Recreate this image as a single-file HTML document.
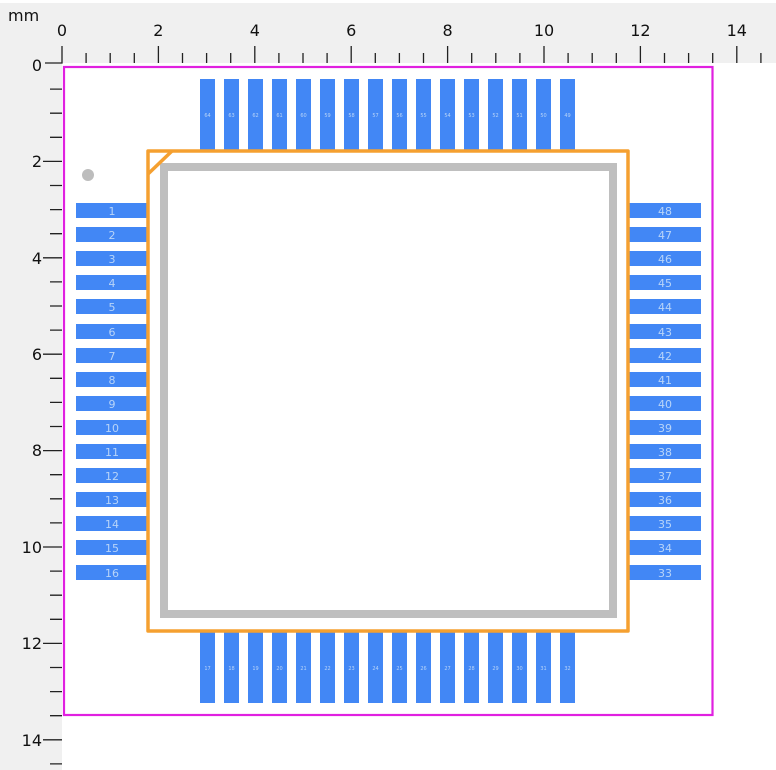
<!DOCTYPE html>
<html><head><meta charset="utf-8"><style>html,body{margin:0;padding:0;background:#fff}svg{display:block}text{font-family:"DejaVu Sans","Liberation Sans",sans-serif}</style></head><body>
<svg width="776" height="770" viewBox="0 0 776 770" xmlns="http://www.w3.org/2000/svg">
<rect x="0" y="0" width="776" height="770" fill="#fff"/>
<rect x="0" y="3" width="776" height="60" fill="#f0f0f0"/>
<rect x="0" y="3" width="62" height="767" fill="#f0f0f0"/>
<g stroke="#222" stroke-width="1.3" fill="none">
<path d="M62 46V63H45"/>
<path d="M86.1 53V63M110.2 53V63M134.3 53V63M182.5 53V63M206.6 53V63M230.7 53V63M278.9 53V63M303 53V63M327.1 53V63M375.3 53V63M399.4 53V63M423.5 53V63M471.7 53V63M495.8 53V63M519.9 53V63M568.1 53V63M592.2 53V63M616.3 53V63M664.5 53V63M688.6 53V63M712.7 53V63M760.9 53V63"/>
<path d="M158.4 46V63M254.8 46V63M351.2 46V63M447.6 46V63M544 46V63M640.4 46V63M736.8 46V63"/>
<path d="M50 89.1H62M50 113.2H62M50 137.3H62M50 185.5H62M50 209.6H62M50 233.7H62M50 281.9H62M50 306H62M50 330.1H62M50 378.3H62M50 402.4H62M50 426.5H62M50 474.7H62M50 498.8H62M50 522.9H62M50 571.1H62M50 595.2H62M50 619.3H62M50 667.5H62M50 691.6H62M50 715.7H62M50 763.9H62"/>
<path d="M43 161.4H62M43 257.8H62M43 354.2H62M43 450.6H62M43 547H62M43 643.4H62M43 739.8H62"/>
</g>
<g font-size="16" fill="#111" text-anchor="middle">
<text x="62" y="36">0</text><text x="158.4" y="36">2</text><text x="254.8" y="36">4</text><text x="351.2" y="36">6</text><text x="447.6" y="36">8</text><text x="544" y="36">10</text><text x="640.4" y="36">12</text><text x="736.8" y="36">14</text>
</g>
<g font-size="16" fill="#111" text-anchor="end">
<text x="42" y="71">0</text><text x="42" y="167">2</text><text x="42" y="264">4</text><text x="42" y="360">6</text><text x="42" y="456">8</text><text x="42" y="553">10</text><text x="42" y="649">12</text><text x="42" y="746">14</text>
</g>
<text x="8" y="21" font-size="16" fill="#111">mm</text>
<rect x="64" y="67" width="648.5" height="648" fill="none" stroke="#e020e0" stroke-width="2.2"/>
<circle cx="88" cy="175" r="6" fill="#bdbdbd"/>
<g fill="#4287f5">
<rect x="200" y="79" width="15" height="71"/><rect x="224" y="79" width="15" height="71"/><rect x="248" y="79" width="15" height="71"/><rect x="272" y="79" width="15" height="71"/><rect x="296" y="79" width="15" height="71"/><rect x="320" y="79" width="15" height="71"/><rect x="344" y="79" width="15" height="71"/><rect x="368" y="79" width="15" height="71"/><rect x="392" y="79" width="15" height="71"/><rect x="416" y="79" width="15" height="71"/><rect x="440" y="79" width="15" height="71"/><rect x="464" y="79" width="15" height="71"/><rect x="488" y="79" width="15" height="71"/><rect x="512" y="79" width="15" height="71"/><rect x="536" y="79" width="15" height="71"/><rect x="560" y="79" width="15" height="71"/>
<rect x="200" y="632" width="15" height="71"/><rect x="224" y="632" width="15" height="71"/><rect x="248" y="632" width="15" height="71"/><rect x="272" y="632" width="15" height="71"/><rect x="296" y="632" width="15" height="71"/><rect x="320" y="632" width="15" height="71"/><rect x="344" y="632" width="15" height="71"/><rect x="368" y="632" width="15" height="71"/><rect x="392" y="632" width="15" height="71"/><rect x="416" y="632" width="15" height="71"/><rect x="440" y="632" width="15" height="71"/><rect x="464" y="632" width="15" height="71"/><rect x="488" y="632" width="15" height="71"/><rect x="512" y="632" width="15" height="71"/><rect x="536" y="632" width="15" height="71"/><rect x="560" y="632" width="15" height="71"/>
<rect x="76" y="203" width="72" height="15"/><rect x="76" y="227" width="72" height="15"/><rect x="76" y="251" width="72" height="15"/><rect x="76" y="275" width="72" height="15"/><rect x="76" y="299" width="72" height="15"/><rect x="76" y="324" width="72" height="15"/><rect x="76" y="348" width="72" height="15"/><rect x="76" y="372" width="72" height="15"/><rect x="76" y="396" width="72" height="15"/><rect x="76" y="420" width="72" height="15"/><rect x="76" y="444" width="72" height="15"/><rect x="76" y="468" width="72" height="15"/><rect x="76" y="492" width="72" height="15"/><rect x="76" y="516" width="72" height="15"/><rect x="76" y="540" width="72" height="15"/><rect x="76" y="565" width="72" height="15"/>
<rect x="629" y="203" width="72" height="15"/><rect x="629" y="227" width="72" height="15"/><rect x="629" y="251" width="72" height="15"/><rect x="629" y="275" width="72" height="15"/><rect x="629" y="299" width="72" height="15"/><rect x="629" y="324" width="72" height="15"/><rect x="629" y="348" width="72" height="15"/><rect x="629" y="372" width="72" height="15"/><rect x="629" y="396" width="72" height="15"/><rect x="629" y="420" width="72" height="15"/><rect x="629" y="444" width="72" height="15"/><rect x="629" y="468" width="72" height="15"/><rect x="629" y="492" width="72" height="15"/><rect x="629" y="516" width="72" height="15"/><rect x="629" y="540" width="72" height="15"/><rect x="629" y="565" width="72" height="15"/>
</g>
<g font-size="11" fill="#b8d4f8" text-anchor="middle">
<text x="112" y="215">1</text><text x="112" y="239">2</text><text x="112" y="263">3</text><text x="112" y="287">4</text><text x="112" y="311">5</text><text x="112" y="336">6</text><text x="112" y="360">7</text><text x="112" y="384">8</text><text x="112" y="408">9</text><text x="112" y="432">10</text><text x="112" y="456">11</text><text x="112" y="480">12</text><text x="112" y="504">13</text><text x="112" y="528">14</text><text x="112" y="552">15</text><text x="112" y="577">16</text>
<text x="665" y="215">48</text><text x="665" y="239">47</text><text x="665" y="263">46</text><text x="665" y="287">45</text><text x="665" y="311">44</text><text x="665" y="336">43</text><text x="665" y="360">42</text><text x="665" y="384">41</text><text x="665" y="408">40</text><text x="665" y="432">39</text><text x="665" y="456">38</text><text x="665" y="480">37</text><text x="665" y="504">36</text><text x="665" y="528">35</text><text x="665" y="552">34</text><text x="665" y="577">33</text>
</g>
<g font-size="5" fill="#b8d4f8" text-anchor="middle">
<text x="207.5" y="117">64</text><text x="231.5" y="117">63</text><text x="255.5" y="117">62</text><text x="279.5" y="117">61</text><text x="303.5" y="117">60</text><text x="327.5" y="117">59</text><text x="351.5" y="117">58</text><text x="375.5" y="117">57</text><text x="399.5" y="117">56</text><text x="423.5" y="117">55</text><text x="447.5" y="117">54</text><text x="471.5" y="117">53</text><text x="495.5" y="117">52</text><text x="519.5" y="117">51</text><text x="543.5" y="117">50</text><text x="567.5" y="117">49</text>
<text x="207.5" y="670">17</text><text x="231.5" y="670">18</text><text x="255.5" y="670">19</text><text x="279.5" y="670">20</text><text x="303.5" y="670">21</text><text x="327.5" y="670">22</text><text x="351.5" y="670">23</text><text x="375.5" y="670">24</text><text x="399.5" y="670">25</text><text x="423.5" y="670">26</text><text x="447.5" y="670">27</text><text x="471.5" y="670">28</text><text x="495.5" y="670">29</text><text x="519.5" y="670">30</text><text x="543.5" y="670">31</text><text x="567.5" y="670">32</text>
</g>
<rect x="164" y="167" width="449" height="447" fill="none" stroke="#bfbfbf" stroke-width="8"/>
<rect x="148" y="151" width="480" height="480" fill="none" stroke="#f5a030" stroke-width="3.5" stroke-linejoin="round"/>
<path d="M148 174L172 151" stroke="#f5a030" stroke-width="3.5"/>
</svg>
</body></html>
